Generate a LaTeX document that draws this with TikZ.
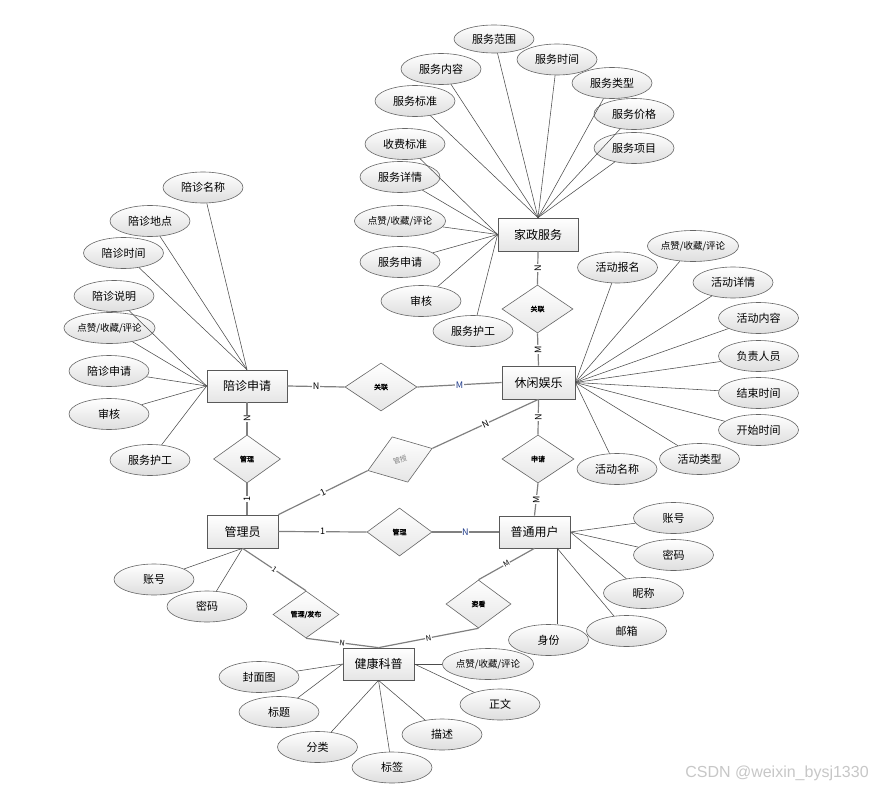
\documentclass[tikz,border=0pt]{standalone}
\usepackage{fontspec}
\setmainfont{Noto Sans CJK SC}
\newfontfamily\relfont[AutoFakeBold=1.5]{Noto Sans CJK SC}
\newfontfamily\wmfont{Liberation Sans}
\usetikzlibrary{shapes.geometric,shadows,calc}
\definecolor{cardblue}{HTML}{1F3A8A}
\tikzset{
  attr/.style={ellipse, draw=black!60, line width=0.6pt, top color=white, bottom color=black!13,
    minimum width=80, minimum height=31, inner sep=0pt, font=\fontsize{11}{13}\selectfont},
  attrs/.style={attr, font=\fontsize{9.5}{11}\selectfont},
  ent/.style={rectangle, draw=black!65, line width=0.7pt, top color=white, bottom color=black!10,
    minimum width=72, minimum height=33, inner sep=0pt, font=\fontsize{12}{14}\selectfont,
    drop shadow={opacity=0.25, shadow xshift=1.3pt, shadow yshift=-1.3pt}},
  rel/.style={diamond, draw=black!60, line width=0.6pt, top color=white, bottom color=black!10,
    minimum width=70, minimum height=48, inner sep=0pt, font=\relfont\bfseries\fontsize{7}{8}\selectfont},
  al/.style={draw=black!70, line width=0.55pt},
  link/.style={draw=black!50, line width=1.2pt},
  card/.style={font=\fontsize{9}{10}\selectfont, fill=white, inner sep=0.6pt},
  cards/.style={card, sloped, font=\fontsize{7.5}{8}\selectfont},
}
\begin{document}
\begin{tikzpicture}[x=1pt,y=-1pt]
\useasboundingbox (0,0) rectangle (873,789);
\fill[white] (0,0) rectangle (873,789);

% ---------- entities ----------
\node[ent, minimum width=80] (jz) at (538,234.5) {家政服务};
\node[ent, minimum width=73] (xx) at (538.5,382.5) {休闲娱乐};
\node[ent, minimum width=80, minimum height=32] (pz) at (247,386) {陪诊申请};
\node[ent, minimum width=71] (gl) at (242.5,531.5) {管理员};
\node[ent, minimum width=71, minimum height=32] (yh) at (534.5,532) {普通用户};
\node[ent, minimum width=71, minimum height=32] (jk) at (378.5,664) {健康科普};

% ---------- relationships ----------
\node[rel, minimum width=71] (r1) at (537.5,309) {关联};
\node[rel, minimum width=72] (r2) at (381,387) {关联};
\node[rel, minimum width=67] (r3) at (247,459) {管理};
\node[rel, minimum width=68, rotate=19, text=black!50, font=\fontsize{7}{8}\selectfont] (r4) at (400,459.5) {管授};
\node[rel, minimum width=72] (r5) at (538,459) {申请};
\node[rel, minimum width=65] (r6) at (399.5,532) {管理};
\node[rel, minimum width=65] (r7) at (478.5,604) {资看};
\node[rel, minimum width=66, minimum height=47] (r8) at (306,614.5) {管理/发布};

% ---------- attributes: 家政服务 ----------
\node[attr, minimum height=28] (a1) at (494,39) {服务范围};
\node[attr] (a2) at (441,69) {服务内容};
\node[attr] (a3) at (557,59.5) {服务时间};
\node[attr] (a4) at (612,83) {服务类型};
\node[attr] (a5) at (415,101) {服务标准};
\node[attr] (a6) at (634,114) {服务价格};
\node[attr] (a7) at (405,144) {收费标准};
\node[attr] (a8) at (634,148) {服务项目};
\node[attr] (a9) at (400,177) {服务详情};
\node[attrs] (a10) at (400,221) {点赞/收藏/评论};
\node[attr] (a11) at (400,262) {服务申请};
\node[attr] (a12) at (421,301) {审核};
\node[attr] (a13) at (473,331) {服务护工};

% ---------- attributes: 休闲娱乐 ----------
\node[attr] (b1) at (617.5,267.5) {活动报名};
\node[attrs] (b2) at (693,246) {点赞/收藏/评论};
\node[attr] (b3) at (733,282.5) {活动详情};
\node[attr] (b4) at (758.5,318) {活动内容};
\node[attr] (b5) at (758.5,356) {负责人员};
\node[attr] (b6) at (758.5,393) {结束时间};
\node[attr] (b7) at (758.5,430) {开始时间};
\node[attr] (b8) at (699.5,459) {活动类型};
\node[attr] (b9) at (617,469) {活动名称};

% ---------- attributes: 陪诊申请 ----------
\node[attr] (c1) at (203,187.5) {陪诊名称};
\node[attr] (c2) at (150,221) {陪诊地点};
\node[attr] (c3) at (123.5,253) {陪诊时间};
\node[attr] (c4) at (114,296) {陪诊说明};
\node[attrs] (c5) at (109.5,328) {点赞/收藏/评论};
\node[attr] (c6) at (109,371) {陪诊申请};
\node[attr] (c7) at (109,414) {审核};
\node[attr] (c8) at (150,460) {服务护工};

% ---------- attributes: 普通用户 ----------
\node[attr] (d1) at (673.5,518) {账号};
\node[attr] (d2) at (673.5,555) {密码};
\node[attr] (d3) at (643.5,593) {昵称};
\node[attr] (d4) at (626.5,631) {邮箱};
\node[attr] (d5) at (548.5,640) {身份};
\coordinate (yhb) at (557,548);

% ---------- attributes: 管理员 ----------
\node[attr] (f1) at (154,579.5) {账号};
\node[attr] (f2) at (207,606.5) {密码};

% ---------- attributes: 健康科普 ----------
\node[attr] (e1) at (259,677) {封面图};
\node[attr] (e2) at (279,712) {标题};
\node[attr] (e3) at (317.5,747) {分类};
\node[attr] (e4) at (392,767.5) {标签};
\node[attr] (e5) at (442,734.5) {描述};
\node[attr] (e6) at (500,704.5) {正文};
\node[attrs] (e7) at (488,664) {点赞/收藏/评论};

% ---------- attribute lines ----------
\foreach \a in {a1,a2,a3,a4,a5,a6,a8} \draw[al] (\a) -- (jz.north);
\foreach \a in {a7,a9,a10,a11,a12,a13} \draw[al] (\a) -- (jz.west);
\foreach \a in {b1,b2,b3,b4,b5,b6,b7,b8,b9} \draw[al] (\a) -- (xx.east);
\foreach \a in {c1,c2,c3} \draw[al] (\a) -- (pz.north);
\foreach \a in {c4,c5,c6,c7,c8} \draw[al] (\a) -- (pz.west);
\foreach \a in {d1,d2,d3} \draw[al] (\a) -- (yh.east);
\draw[al] (d4) -- (yhb);
\draw[al] (d5.north -| yhb) -- (yhb);
\foreach \a in {f1,f2} \draw[al] (\a) -- (gl.south);
\foreach \a in {e1,e2} \draw[al] (\a) -- (jk.west);
\foreach \a in {e3,e4,e5} \draw[al] (\a) -- (jk.south);
\foreach \a in {e6,e7} \draw[al] (\a) -- (jk.east);

% ---------- relationship lines ----------
\draw[link] (jz.south) -- node[card, rotate=90] {N} (r1.north);
\draw[link] (r1.south) -- node[card, rotate=90] {M} (xx.north);
\draw[link] (pz.east) -- node[card] {N} (r2.west);
\draw[link] (r2.east) -- node[card, text=cardblue] {M} (xx.west);
\draw[link] (pz.south) -- node[card, rotate=90] {N} (r3.north);
\draw[link] (r3.south) -- node[card, rotate=90] {1} (r3.south |- gl.north);
\draw[link] (gl.north east) -- node[card, sloped] {1} (r4.west);
\draw[link] (r4.east) -- node[card, sloped] {N} (xx.south);
\draw[link] (xx.south) -- node[card, rotate=90] {N} (r5.north);
\draw[link] (r5.south) -- node[card, rotate=90] {M} (yh.north);
\draw[link] (gl.east) -- node[card] {1} (r6.west);
\draw[link] (r6.east) -- node[card, text=cardblue] {N} (yh.west);
\draw[link] (yh.south) -- node[cards] {M} (r7.north);
\draw[link] (r7.south) -- node[cards] {N} (jk.north);
\draw[link] (gl.south) -- node[cards] {1} (r8.north);
\draw[link] (r8.south) -- node[cards] {N} (jk.north);

% ---------- watermark ----------
\node[text=black!22, font=\wmfont\fontsize{16}{18}\selectfont, inner sep=0pt] (wm) at (777,773) {CSDN @weixin\_bysj1330};
\end{tikzpicture}
\end{document}
